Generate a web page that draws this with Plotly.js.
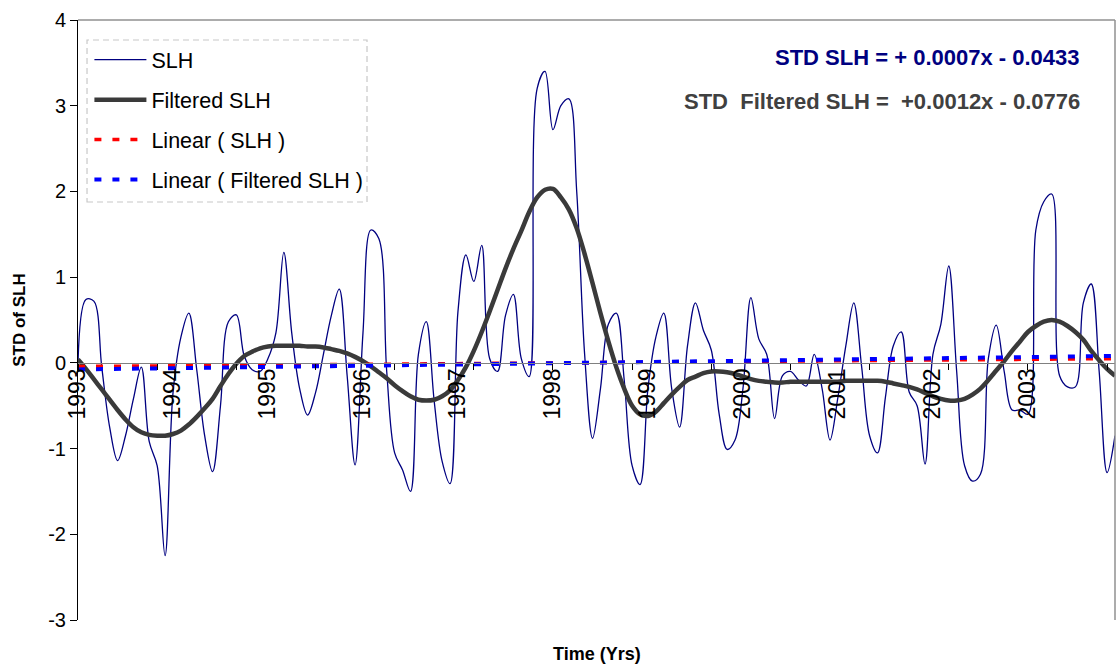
<!DOCTYPE html>
<html>
<head>
<meta charset="utf-8">
<script src="https://cdn.plot.ly/plotly-3.0.1.min.js"></script>
<style>
  html, body { margin: 0; padding: 0; background: #fff; }
  #chart { width: 1117px; height: 669px; }
</style>
</head>
<body>
<div id="chart"></div>
<script>
// Monthly series, January 1993 onwards (one value per month)
const startYear = 1993;

const slh = [
   0.00,  0.74,  0.72, -0.05, -0.75, -1.14, -0.85, -0.42, -0.05, -0.92,
  -1.20, -2.25, -0.35,  0.30,  0.58, -0.08, -0.85, -1.27, -0.50,  0.48,
   0.56,  0.08, -0.08, -0.10,  0.05,  0.35,  1.29,  0.35, -0.30, -0.61,
  -0.35,  0.10,  0.55,  0.86, -0.15, -1.19,  0.35,  1.55,  1.45, -0.10,
  -1.05, -1.25, -1.50,  0.10,  0.48, -0.45, -1.15, -1.41,  0.60,  1.26,
   0.95,  1.37,  0.05, -0.10,  0.55,  0.80,  0.05, -0.16,  3.20,  3.40,
   2.72,  3.00,  3.08,  2.00,  0.10, -0.88, -0.30,  0.45,  0.58, -0.20,
  -1.20, -1.42, -0.30,  0.30,  0.58, -0.30, -0.75,  0.20,  0.70,  0.38,
   0.15, -0.60, -1.01, -0.90, -0.30,  0.76,  0.28,  0.10, -0.65, -0.15,
  -0.10, -0.20, -0.27,  0.10, -0.30, -0.90, -0.40,  0.20,  0.70, -0.05,
  -0.85, -1.05, -0.40,  0.20,  0.36, -0.34, -0.50, -1.18,  0.10,  0.45,
   1.13, -0.10, -1.20, -1.38, -1.30,  0.05,  0.44, -0.10, -0.55, -0.55,
  -0.60,  1.55,  1.88,  1.97, -0.15, -0.28, -0.28,  0.70,  0.92, -0.10,
  -1.28, -0.85
];

const filteredSlh = [
   0.04, -0.07, -0.19, -0.31, -0.43, -0.55, -0.66, -0.75, -0.81, -0.84,
  -0.85, -0.85, -0.83, -0.79, -0.72, -0.63, -0.53, -0.42, -0.27, -0.13,
  -0.01,  0.08,  0.13,  0.17,  0.19,  0.20,  0.20,  0.20,  0.20,  0.19,
   0.19,  0.18,  0.16,  0.14,  0.11,  0.07,  0.02, -0.04, -0.11, -0.18,
  -0.26, -0.33, -0.39, -0.43, -0.44, -0.43, -0.39, -0.32, -0.20, -0.05,
   0.14,  0.36,  0.60,  0.85,  1.10,  1.33,  1.54,  1.76,  1.93,  2.02,
   2.03,  1.93,  1.79,  1.57,  1.27,  0.93,  0.58,  0.25, -0.05, -0.30,
  -0.50, -0.60, -0.62, -0.57, -0.47, -0.37, -0.28, -0.20, -0.16, -0.12,
  -0.10, -0.10, -0.11, -0.13, -0.16, -0.19, -0.21, -0.22, -0.23, -0.23,
  -0.22, -0.22, -0.22, -0.22, -0.22, -0.22, -0.22, -0.21, -0.21, -0.21,
  -0.21, -0.21, -0.22, -0.24, -0.26, -0.28, -0.31, -0.35, -0.39, -0.42,
  -0.44, -0.44, -0.42, -0.37, -0.30, -0.20, -0.09,  0.02,  0.14,  0.25,
   0.36,  0.43,  0.48,  0.50,  0.48,  0.43,  0.36,  0.27,  0.14,  0.03,
  -0.07, -0.15
];

// Linear trends as stated in the equations (x = month number, 1-based)
const trendSlh      = { slope: 0.0007, intercept: -0.0433 };
const trendFiltered = { slope: 0.0012, intercept: -0.0776 };

const yearLabels = ['1993', '1994', '1995', '1996', '1997', '1998',
                    '1999', '2000', '2001', '2002', '2003'];
const yTickValues = [-3, -2, -1, 0, 1, 2, 3, 4];
const yTickLabels = ['-3', '-2', '-1', '0', '1', '2', '3', '4'];

// Time coordinate for each month
const t = slh.map((_, i) => startYear + i / 12);
const ends = [0, slh.length - 1];
const trendX = ends.map(i => t[i]);
const trendY = c => ends.map(i => c.slope * (i + 1) + c.intercept);
const yearVals = yearLabels.map(Number);

const xRange = [t[0], t[t.length - 1]];
const zeroPos = 3 / 7;   // y = 0 inside the [-3, 4] range

const traces = [
  {
    name: 'SLH', x: t, y: slh, type: 'scatter', mode: 'lines',
    line: { color: '#000080', width: 1.3, shape: 'spline', smoothing: 1 },
    legendgroup: 'a'
  },
  {
    name: 'Filtered SLH', x: t, y: filteredSlh, type: 'scatter', mode: 'lines',
    line: { color: '#3a3a3a', width: 4.5, shape: 'spline', smoothing: 1 },
    legendgroup: 'b'
  },
  {
    name: 'Linear ( SLH )', x: trendX, y: trendY(trendSlh), type: 'scatter', mode: 'lines',
    line: { color: '#ff0000', width: 3.5, dash: '7px,11px' },
    legendgroup: 'c'
  },
  {
    name: 'Linear ( Filtered SLH )', x: trendX, y: trendY(trendFiltered), type: 'scatter', mode: 'lines',
    line: { color: '#0000ff', width: 4, dash: '7px,11px' },
    legendgroup: 'd'
  },
  // carrier for the year-label axis (draws nothing)
  {
    x: xRange, y: [null, null], xaxis: 'x2', yaxis: 'y', type: 'scatter', mode: 'lines',
    showlegend: false, hoverinfo: 'skip'
  }
];

const font = 'Liberation Sans, Arial, sans-serif';

const layout = {
  width: 1117, height: 669,
  margin: { l: 78, r: 2, t: 20, b: 49, pad: 0 },
  paper_bgcolor: '#ffffff', plot_bgcolor: '#ffffff',
  font: { family: font, color: '#000000', size: 20 },
  showlegend: true,
  legend: {
    x: 0.011, y: 0.968, xanchor: 'left', yanchor: 'top',
    bgcolor: 'rgba(0,0,0,0)', borderwidth: 0,
    font: { family: font, size: 21.5, color: '#000000' },
    traceorder: 'grouped', tracegroupgap: 9, itemwidth: 52
  },
  xaxis: {
    range: xRange, anchor: 'free', position: zeroPos, side: 'bottom',
    showline: true, linecolor: '#808080', linewidth: 1.5,
    ticks: 'outside', ticklen: 6, tickwidth: 1, tickcolor: '#000000',
    tick0: startYear, dtick: 10 / 12,
    showticklabels: false, showgrid: false, zeroline: false
  },
  xaxis2: {
    range: xRange, overlaying: 'x', anchor: 'free', position: zeroPos, side: 'bottom',
    tickmode: 'array', tickvals: yearVals, ticktext: yearLabels,
    tickangle: -90, ticks: '', showline: false, showgrid: false, zeroline: false,
    ticklabelstandoff: 0,
    tickfont: { family: font, size: 23, color: '#000000' }
  },
  yaxis: {
    range: [-3, 4], tickmode: 'array', tickvals: yTickValues, ticktext: yTickLabels,
    ticks: 'outside', ticklen: 7, tickwidth: 1, tickcolor: '#000000',
    showline: true, linecolor: '#000000', linewidth: 1,
    showgrid: false, zeroline: false,
    tickfont: { family: font, size: 20, color: '#000000' },
    title: { text: '<b>STD of SLH</b>', font: { family: font, size: 17, color: '#000000' }, standoff: 18 }
  },
  shapes: [
    // plot frame: top and right edges
    { type: 'line', xref: 'paper', yref: 'paper', x0: 0, x1: 1, y0: 1, y1: 1,
      line: { color: '#909090', width: 1.5 } },
    { type: 'line', xref: 'paper', yref: 'paper', x0: 1, x1: 1, y0: 0, y1: 1,
      line: { color: '#909090', width: 1.5 } },
    // dashed legend box
    { type: 'rect', xref: 'paper', yref: 'paper',
      x0: 0.0087, x1: 0.2787, y0: 0.6967, y1: 0.9667,
      line: { color: '#c8c8c8', width: 1.2, dash: '6px,4px' } }
  ],
  annotations: [
    { xref: 'paper', yref: 'paper', x: 0.968, y: 0.938, xanchor: 'right', yanchor: 'middle',
      text: '<b>STD SLH = + 0.0007x - 0.0433</b>', showarrow: false,
      font: { family: font, size: 22, color: '#000080' } },
    { xref: 'paper', yref: 'paper', x: 0.968, y: 0.865, xanchor: 'right', yanchor: 'middle',
      text: '<b>STD\u00a0 Filtered SLH =\u00a0 +0.0012x - 0.0776</b>', showarrow: false,
      font: { family: font, size: 22, color: '#404040' } },
    { xref: 'paper', yref: 'paper', x: 0.5, y: -0.057, xanchor: 'center', yanchor: 'middle',
      text: '<b>Time (Yrs)</b>', showarrow: false,
      font: { family: font, size: 18, color: '#000000' } }
  ]
};

Plotly.newPlot('chart', traces, layout, { displayModeBar: false, staticPlot: true });
</script>
</body>
</html>
